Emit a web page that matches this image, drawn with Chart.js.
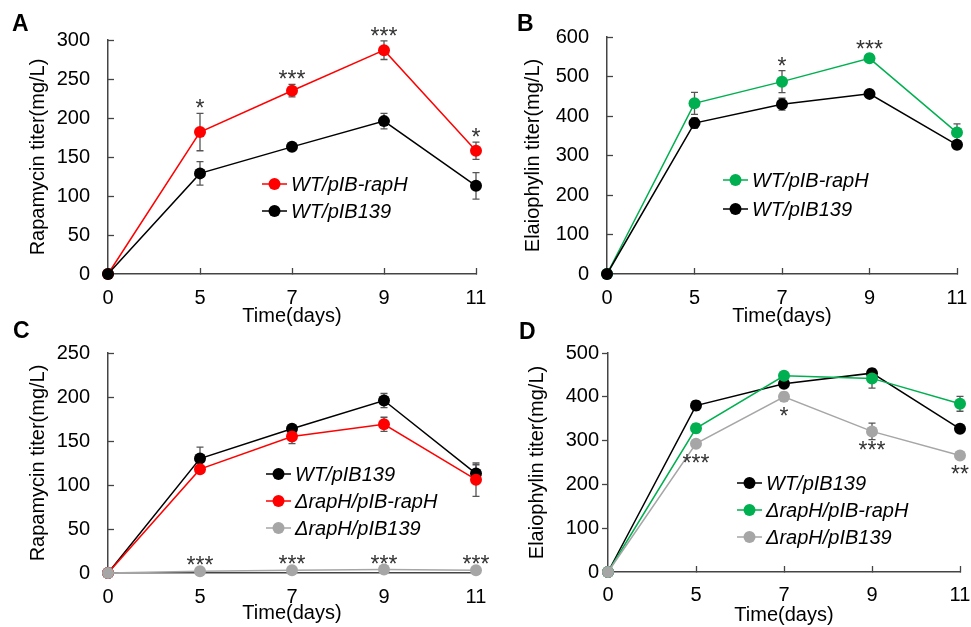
<!DOCTYPE html>
<html>
<head>
<meta charset="utf-8">
<script src="https://cdn.jsdelivr.net/npm/chart.js@4.4.1/dist/chart.umd.min.js"></script>
<style>
  body { margin: 0; background: #fff; width: 971px; height: 627px; position: relative; overflow: hidden;
         font-family: "Liberation Sans", Arial, sans-serif; }
  .panel { position: absolute; }
  .tag { position: absolute; font-weight: bold; font-size: 23px; line-height: 23px; color: #000; }
</style>
</head>
<body>
<div class="panel" style="left:0;top:0;width:490px;height:330px"><canvas id="chartA"></canvas></div>
<div class="panel" style="left:490px;top:0;width:481px;height:330px"><canvas id="chartB"></canvas></div>
<div class="panel" style="left:0;top:310px;width:490px;height:317px"><canvas id="chartC"></canvas></div>
<div class="panel" style="left:490px;top:310px;width:481px;height:317px"><canvas id="chartD"></canvas></div>
<div class="tag" style="left:12px;top:12px">A</div>
<div class="tag" style="left:517px;top:12px">B</div>
<div class="tag" style="left:13px;top:319px">C</div>
<div class="tag" style="left:519px;top:320px">D</div>

<script>
// time points (days)
const days = ['0', '5', '7', '9', '11'];

// A - rapamycin, overexpression in WT
const rapA_rapH = [0, 182, 235, 287, 158];
const rapA_rapH_err = [0, 24, 8, 12, 11];
const rapA_wt = [0, 129, 163, 196, 113];
const rapA_wt_err = [0, 15, 3, 10, 17];
const starsA = ['', '*', '***', '***', '*'];

// B - elaiophylin, overexpression in WT
const elaB_rapH = [0, 432, 487, 546, 358];
const elaB_rapH_err = [0, 28, 28, 10, 22];
const elaB_wt = [0, 382, 430, 456, 327];
const elaB_wt_err = [0, 13, 15, 6, 10];
const starsB = ['', '', '*', '***', ''];

// C - rapamycin, deletion and complementation
const rapC_wt = [0, 130, 164, 196, 113];
const rapC_wt_err = [0, 13, 4, 8, 10];
const rapC_comp = [0, 118, 155, 169, 106];
const rapC_comp_err = [0, 4, 8, 8, 19];
const rapC_del = [0, 2, 3, 4, 3];
const rapC_del_err = [0, 1, 1, 1, 1];
const starsC = ['', '***', '***', '***', '***'];

// D - elaiophylin, deletion and complementation
const elaD_wt = [0, 380, 430, 454, 327];
const elaD_wt_err = [0, 11, 8, 6, 8];
const elaD_comp = [0, 328, 448, 442, 384];
const elaD_comp_err = [0, 10, 4, 22, 17];
const elaD_del = [0, 293, 400, 321, 266];
const elaD_del_err = [0, 4, 10, 19, 4];
const starsD = ['', '***', '*', '***', '**'];

const FONT = '"Liberation Sans", Arial, sans-serif';
const RED = '#ff0000', GREEN = '#00b050', BLACK = '#000000', GREY = '#a6a6a6';

Chart.defaults.font.family = FONT;
Chart.defaults.font.size = 20;
Chart.defaults.color = '#000';

const errorBars = {
  id: 'errorBars',
  beforeDatasetsDraw(chart) {
    const { ctx, scales: { y } } = chart;
    ctx.save();
    ctx.strokeStyle = '#555';
    ctx.lineWidth = 1.3;
    chart.data.datasets.forEach((ds, di) => {
      const meta = chart.getDatasetMeta(di);
      ds.errors.forEach((e, i) => {
        if (!e) return;
        const x = meta.data[i].x;
        const top = y.getPixelForValue(ds.data[i] + e);
        const bot = y.getPixelForValue(ds.data[i] - e);
        ctx.beginPath();
        ctx.moveTo(x, top); ctx.lineTo(x, bot);
        ctx.moveTo(x - 3.5, top); ctx.lineTo(x + 3.5, top);
        ctx.moveTo(x - 3.5, bot); ctx.lineTo(x + 3.5, bot);
        ctx.stroke();
      });
    });
    ctx.restore();
  }
};

const stars = {
  id: 'stars',
  afterDatasetsDraw(chart, args, opts) {
    const { ctx, scales: { y } } = chart;
    const ds = chart.data.datasets[opts.series];
    const meta = chart.getDatasetMeta(opts.series);
    ctx.save();
    ctx.font = '23px ' + FONT;
    ctx.fillStyle = '#333';
    ctx.textAlign = 'center';
    ctx.textBaseline = 'alphabetic';
    opts.texts.forEach((t, i) => {
      if (!t) return;
      const x = meta.data[i].x;
      let yy;
      if (opts.side === 'above') yy = y.getPixelForValue(ds.data[i] + ds.errors[i]) + 3;
      else yy = meta.data[i].y + 27;
      ctx.fillText(t, x, yy);
    });
    ctx.restore();
  }
};

const inlineLegend = {
  id: 'inlineLegend',
  afterDatasetsDraw(chart, args, opts) {
    const ctx = chart.ctx;
    ctx.save();
    chart.data.datasets.forEach((ds, i) => {
      const y = opts.y + i * opts.dy;
      ctx.strokeStyle = ds.borderColor;
      ctx.lineWidth = 1.5;
      ctx.beginPath();
      ctx.moveTo(opts.x, y);
      ctx.lineTo(opts.x + 25, y);
      ctx.stroke();
      ctx.fillStyle = ds.backgroundColor;
      ctx.beginPath();
      ctx.arc(opts.x + 12.5, y, 6, 0, Math.PI * 2);
      ctx.fill();
      ctx.fillStyle = '#000';
      ctx.font = 'italic 20px ' + FONT;
      ctx.textAlign = 'left';
      ctx.textBaseline = 'middle';
      ctx.fillText(ds.label, opts.x + 29, y + 1);
    });
    ctx.restore();
  }
};

function series(label, data, errors, color, order) {
  return {
    label, data, errors,
    borderColor: color, backgroundColor: color,
    borderWidth: 1.5, pointRadius: 6, pointHoverRadius: 6, pointBorderWidth: 0,
    tension: 0, clip: false, order
  };
}

function panel(id, o) {
  new Chart(document.getElementById(id), {
    type: 'line',
    data: { labels: days, datasets: o.datasets },
    plugins: [errorBars, stars, inlineLegend],
    options: {
      responsive: true,
      maintainAspectRatio: false,
      animation: false,
      events: [],
      layout: { padding: { left: 0, top: o.top, right: o.right, bottom: 0 } },
      plugins: {
        legend: { display: false },
        tooltip: { enabled: false },
        stars: o.stars,
        inlineLegend: o.legend
      },
      scales: {
        x: {
          type: 'category',
          offset: false,
          grid: { drawOnChartArea: false, color: '#444', tickLength: -6, tickWidth: 1.3 },
          border: { color: '#444', width: 1.5 },
          ticks: { padding: o.xPad, color: '#000', maxRotation: 0, autoSkip: false },
          title: { display: true, text: 'Time(days)', color: '#000', padding: { top: 0, bottom: o.xTitlePad } },
          afterFit: s => { s.height = o.xHeight; s.paddingLeft = 0; s.paddingRight = 0; }
        },
        y: {
          min: 0,
          max: o.yMax,
          grid: { drawOnChartArea: false, color: '#444', tickLength: o.yTick, tickWidth: 1.3 },
          border: { color: '#444', width: 1.5 },
          ticks: { stepSize: o.yStep, padding: o.yPad, color: '#000' },
          title: { display: true, text: o.yTitle, color: '#000', padding: { top: o.yTitlePad, bottom: 0 } },
          afterFit: s => { s.width = o.yWidth; }
        }
      }
    }
  });
}

panel('chartA', {
  datasets: [
    series('WT/pIB-rapH', rapA_rapH, rapA_rapH_err, RED, 2),
    series('WT/pIB139', rapA_wt, rapA_wt_err, BLACK, 1)
  ],
  top: 40, right: 14, xHeight: 56, xPad: 18, xTitlePad: 2,
  yWidth: 108, yMax: 300, yStep: 50, yTick: -6, yPad: 24, yTitlePad: 26,
  yTitle: 'Rapamycin titer(mg/L)',
  stars: { series: 0, texts: starsA, side: 'above' },
  legend: { x: 262, y: 184, dy: 27 }
});

panel('chartB', {
  datasets: [
    series('WT/pIB-rapH', elaB_rapH, elaB_rapH_err, GREEN, 2),
    series('WT/pIB139', elaB_wt, elaB_wt_err, BLACK, 1)
  ],
  top: 37, right: 14, xHeight: 56, xPad: 18, xTitlePad: 2,
  yWidth: 117, yMax: 600, yStep: 100, yTick: -6, yPad: 24, yTitlePad: 31,
  yTitle: 'Elaiophylin titer(mg/L)',
  stars: { series: 0, texts: starsB, side: 'above' },
  legend: { x: 233, y: 180, dy: 29 }
});

panel('chartC', {
  datasets: [
    series('WT/pIB139', rapC_wt, rapC_wt_err, BLACK, 3),
    series('\u0394rapH/pIB-rapH', rapC_comp, rapC_comp_err, RED, 2),
    series('\u0394rapH/pIB139', rapC_del, rapC_del_err, GREY, 1)
  ],
  top: 43, right: 14, xHeight: 54, xPad: 18, xTitlePad: 2,
  yWidth: 108, yMax: 250, yStep: 50, yTick: -6, yPad: 24, yTitlePad: 26,
  yTitle: 'Rapamycin titer(mg/L)',
  stars: { series: 2, texts: starsC, side: 'above' },
  legend: { x: 266, y: 164, dy: 27 }
});

panel('chartD', {
  datasets: [
    series('WT/pIB139', elaD_wt, elaD_wt_err, BLACK, 3),
    series('\u0394rapH/pIB-rapH', elaD_comp, elaD_comp_err, GREEN, 2),
    series('\u0394rapH/pIB139', elaD_del, elaD_del_err, GREY, 1)
  ],
  top: 43, right: 11, xHeight: 55, xPad: 17, xTitlePad: 0,
  yWidth: 118, yMax: 500, yStep: 100, yTick: 6, yPad: 3, yTitlePad: 35,
  yTitle: 'Elaiophylin titer(mg/L)',
  stars: { series: 2, texts: starsD, side: 'below' },
  legend: { x: 247, y: 173, dy: 27 }
});
</script>
</body>
</html>
